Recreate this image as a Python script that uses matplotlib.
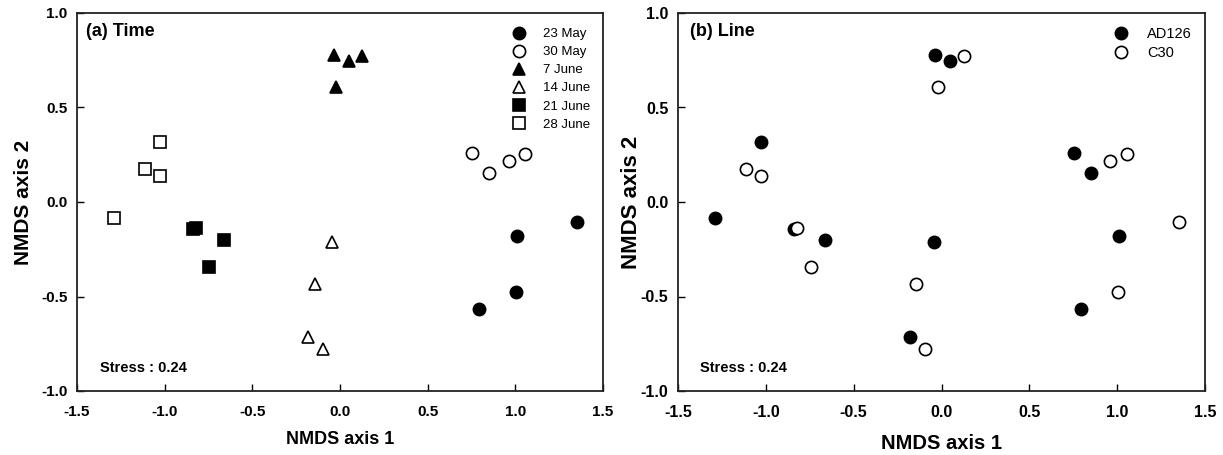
import matplotlib
matplotlib.use("Agg")
import matplotlib.pyplot as plt

plt.rcParams['font.family'] = ['Liberation Sans', 'DejaVu Sans']

# NMDS site scores: sampling date and line for every sample
dates = ["23 May", "30 May", "7 June", "14 June", "21 June", "28 June"]
lines = ["AD126", "C30"]

sample_date = (["23 May"] * 4 + ["30 May"] * 4 + ["7 June"] * 4 +
               ["14 June"] * 4 + ["21 June"] * 4 + ["28 June"] * 4)
sample_line = ["C30", "AD126", "C30", "AD126",
               "AD126", "AD126", "C30", "C30",
               "AD126", "AD126", "C30", "C30",
               "AD126", "C30", "AD126", "C30",
               "AD126", "C30", "AD126", "C30",
               "AD126", "AD126", "C30", "C30"]
nmds1 = [1.352, 1.012, 1.002, 0.792,
         0.755, 0.849, 0.962, 1.056,
         -0.037, 0.050, 0.127, -0.022,
         -0.045, -0.143, -0.182, -0.095,
         -0.840, -0.822, -0.662, -0.745,
         -1.288, -1.027, -1.114, -1.025]
nmds2 = [-0.108, -0.180, -0.477, -0.567,
         0.257, 0.152, 0.219, 0.252,
         0.779, 0.746, 0.772, 0.611,
         -0.214, -0.432, -0.714, -0.779,
         -0.145, -0.138, -0.200, -0.345,
         -0.087, 0.319, 0.174, 0.139]
stress_value = 0.24

date_marker = {"23 May": "o", "30 May": "o", "7 June": "^",
               "14 June": "^", "21 June": "s", "28 June": "s"}
date_fill = {"23 May": "black", "30 May": "white", "7 June": "black",
             "14 June": "white", "21 June": "black", "28 June": "white"}
line_fill = {"AD126": "black", "C30": "white"}

fig = plt.figure(figsize=(12.23, 4.55), dpi=100)
W, H = 1223, 455
axA = fig.add_axes([77 / W, 1 - 391 / H, 526 / W, 378 / H])
axB = fig.add_axes([678 / W, 1 - 391 / H, 527 / W, 378 / H])

ms = 8.8
mew = 1.2


def style_axes(ax, tick_size, xlabel_size, ylabel_size, ylab_x, xlab_y):
    ax.set_xlim(-1.5, 1.5)
    ax.set_ylim(-1.0, 1.0)
    ax.set_xticks([-1.5, -1.0, -0.5, 0.0, 0.5, 1.0, 1.5])
    ax.set_yticks([-1.0, -0.5, 0.0, 0.5, 1.0])
    ax.set_xticklabels([f"{v:.1f}" for v in ax.get_xticks()])
    ax.set_yticklabels([f"{v:.1f}" for v in ax.get_yticks()])
    ax.tick_params(axis='both', direction='in', length=5, width=1.0,
                   labelsize=tick_size, colors='black')
    ax.tick_params(axis='x', pad=10)
    ax.tick_params(axis='y', pad=7)
    for lab in ax.get_xticklabels() + ax.get_yticklabels():
        lab.set_fontweight('bold')
    for sp in ax.spines.values():
        sp.set_linewidth(1.3)
        sp.set_color('#222222')
    ax.set_xlabel("NMDS axis 1", fontsize=xlabel_size, fontweight='bold')
    ax.set_ylabel("NMDS axis 2", fontsize=ylabel_size, fontweight='bold')
    ax.xaxis.set_label_coords(0.5, xlab_y)
    ax.yaxis.set_label_coords(ylab_x, 0.5)


# (a) samples by sampling date
for d in dates:
    xs = [x for x, dd in zip(nmds1, sample_date) if dd == d]
    ys = [y for y, dd in zip(nmds2, sample_date) if dd == d]
    axA.plot(xs, ys, linestyle='none', marker=date_marker[d], ms=ms,
             mfc=date_fill[d], mec='black', mew=mew, label=d)

style_axes(axA, 11, 13, 15, -0.084, -0.105)
axA.text(0.017, 0.95, "(a) Time", transform=axA.transAxes, fontsize=13,
         fontweight='bold', ha='left', va='center')
axA.text(0.044, 0.061, f"Stress : {stress_value:.2f}", transform=axA.transAxes,
         fontsize=10.5, fontweight='bold', ha='left', va='center')
axA.legend(loc='upper left', bbox_to_anchor=(0.828, 0.960), frameon=False,
           fontsize=9.5, handlelength=1.0, handletextpad=1.3,
           labelspacing=0.44, borderpad=0, borderaxespad=0)

# (b) samples by line
for ln in lines:
    xs = [x for x, l in zip(nmds1, sample_line) if l == ln]
    ys = [y for y, l in zip(nmds2, sample_line) if l == ln]
    axB.plot(xs, ys, linestyle='none', marker='o', ms=ms,
             mfc=line_fill[ln], mec='black', mew=mew, label=ln)

style_axes(axB, 11.5, 14.5, 16, -0.068, -0.115)
axB.text(0.023, 0.95, "(b) Line", transform=axB.transAxes, fontsize=13,
         fontweight='bold', ha='left', va='center')
axB.text(0.042, 0.061, f"Stress : {stress_value:.2f}", transform=axB.transAxes,
         fontsize=10.5, fontweight='bold', ha='left', va='center')
axB.legend(loc='upper left', bbox_to_anchor=(0.826, 0.962), frameon=False,
           fontsize=10.5, handlelength=1.0, handletextpad=1.3,
           labelspacing=0.35, borderpad=0, borderaxespad=0)

fig.savefig("out.png", dpi=100)
